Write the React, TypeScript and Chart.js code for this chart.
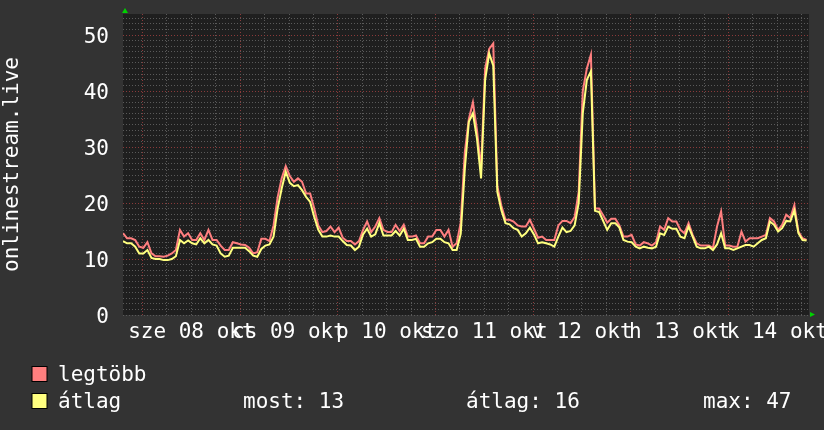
import React, { useEffect, useRef } from 'react';
import { Chart, registerables } from 'chart.js';

Chart.register(...registerables);

const FONT = "'DejaVu Sans Mono', monospace";

// time base: hours relative to 2025-10-08 00:00, one sample per hour
const START_HOUR = -4.8;
const STEP_HOURS = 1;
const X_MAX = 163.8;
const Y_MAX = 53.75;

// series "legtöbb" (maximum)
const legtobb = [
  14.6, 13.7, 13.7, 13.4, 12.2, 12.0, 13.0, 11.0, 10.5, 10.5,
  10.4, 10.6, 11.0, 11.6, 15.2, 14.0, 14.6, 13.4, 13.4, 14.6,
  13.4, 15.2, 13.4, 13.4, 12.4, 11.6, 11.6, 13.0, 12.8, 12.6,
  12.5, 12.0, 11.0, 11.2, 13.6, 13.6, 13.2, 16.0, 21.0, 24.4,
  26.6, 24.8, 23.8, 24.4, 23.8, 21.7, 21.7, 19.0, 16.0, 14.8,
  15.0, 15.8, 14.8, 15.6, 13.8, 13.2, 13.2, 12.6, 13.2, 15.2,
  16.7, 14.8, 15.8, 17.3, 15.2, 14.8, 14.8, 16.1, 15.0, 16.1,
  14.0, 14.0, 14.2, 12.8, 12.8, 14.0, 14.0, 15.2, 15.2, 14.0,
  15.2, 12.2, 12.8, 16.5, 29.0, 35.0, 38.0, 33.0, 26.0, 44.0,
  47.5, 48.5, 23.0, 19.5, 17.0, 17.0, 16.7, 16.0, 15.8, 15.8,
  17.0, 15.4, 13.8, 14.0, 13.4, 13.4, 13.4, 16.0, 16.8, 16.8,
  16.4, 17.5, 22.0, 40.0, 44.0, 46.5, 19.0, 19.0, 17.8, 16.5,
  17.2, 17.2, 16.0, 14.0, 14.0, 14.3, 12.6, 12.4, 13.0, 12.8,
  12.4, 13.0, 15.8, 15.2, 17.3, 16.7, 16.7, 15.2, 14.6, 16.4,
  14.3, 12.8, 12.4, 12.4, 12.4, 12.0, 15.8, 18.5, 12.4, 12.4,
  12.2, 12.2, 14.9, 13.1, 13.7, 13.7, 13.7, 14.0, 14.3, 17.3,
  16.7, 15.2, 16.1, 17.9, 17.3, 19.6, 14.9, 13.7, 13.4,
];

// series "átlag" (average)
const atlag = [
  13.2, 12.8, 12.8, 12.2, 11.0, 11.0, 11.6, 10.2, 10.0, 10.0,
  9.8, 9.8, 10.0, 10.5, 13.4, 12.8, 13.3, 12.8, 12.6, 13.7,
  12.8, 13.4, 12.6, 12.4, 11.0, 10.4, 10.6, 12.0, 12.0, 12.0,
  12.0, 11.4, 10.6, 10.4, 11.8, 12.4, 12.6, 14.0, 19.0, 22.6,
  25.6, 23.6, 23.0, 23.2, 22.3, 21.1, 20.2, 17.5, 15.2, 14.0,
  14.0, 14.2, 14.0, 14.0, 13.2, 12.5, 12.4, 11.6, 12.2, 14.4,
  15.4, 14.0, 14.4, 16.4, 14.2, 14.2, 14.2, 15.0, 14.2, 15.4,
  13.4, 13.4, 13.6, 12.2, 12.2, 12.8, 13.0, 13.6, 13.6, 13.0,
  12.8, 11.6, 11.6, 14.5, 26.0, 34.5, 36.0, 31.5, 24.4, 42.0,
  46.7, 44.5, 22.0, 18.7, 16.4, 16.2, 15.5, 15.2, 14.0, 14.6,
  15.6, 14.4, 12.8, 13.0, 12.8, 12.6, 12.2, 14.0, 15.6, 14.8,
  15.0, 16.0, 20.0, 36.0, 42.0, 43.5, 18.6, 18.4, 16.8, 15.2,
  16.4, 16.4, 15.6, 13.4, 13.1, 13.0, 12.2, 11.9, 12.2, 12.0,
  11.9, 12.2, 14.6, 14.3, 15.8, 15.4, 15.4, 14.0, 13.7, 15.8,
  14.0, 12.2, 11.9, 11.9, 12.2, 11.6, 12.6, 14.6, 11.9, 11.9,
  11.6, 11.9, 12.2, 12.5, 12.5, 12.2, 12.8, 13.4, 13.7, 16.7,
  16.1, 14.9, 15.5, 16.8, 16.7, 18.7, 14.6, 13.4, 13.3,
];

const seriesNames = ['legtöbb', 'átlag'];
const seriesColors = ['#ff7f7f', '#ffff7f'];
const dayLabels = ['sze 08 okt', 'cs 09 okt', 'p 10 okt', 'szo 11 okt', 'v 12 okt', 'h 13 okt', 'k 14 okt'];
const dayLabelHours = [12, 36, 60, 84, 108, 132, 156];
const yTickValues = [0, 10, 20, 30, 40, 50];
const statLabels = ['most: 13', 'átlag: 16', 'max: 47'];
const yTitle = 'onlinestream.live';

const MAJOR = '#8a3a3a';
const MINOR = '#5a5a5a';

const toPoints = (arr: number[]) => arr.map((v, i) => ({ x: START_HOUR + i * STEP_HOURS, y: v }));

const decor = {
  id: 'rrdDecor',
  beforeDraw(chart: any) {
    const { ctx, chartArea: a } = chart;
    ctx.save();
    ctx.fillStyle = '#333333';
    ctx.fillRect(0, 0, chart.width, chart.height);
    ctx.fillStyle = '#1f1f1f';
    ctx.fillRect(a.left, a.top, a.right - a.left, a.bottom - a.top);
    ctx.restore();
  },
  afterDraw(chart: any) {
    const { ctx, chartArea: a } = chart;
    const xs = chart.scales.x;
    const ys = chart.scales.y;
    ctx.save();
    ctx.font = `21px ${FONT}`;
    ctx.fillStyle = '#ffffff';
    ctx.textBaseline = 'alphabetic';
    // y tick labels
    ctx.textAlign = 'right';
    yTickValues.forEach((v) => {
      ctx.fillText(String(v), a.left - 14, ys.getPixelForValue(v) + 8);
    });
    // x day labels
    ctx.textAlign = 'center';
    dayLabels.forEach((lab, i) => {
      ctx.fillText(lab, xs.getPixelForValue(dayLabelHours[i]), 338);
    });
    // arrows
    ctx.fillStyle = '#00d200';
    ctx.beginPath();
    ctx.moveTo(a.left - 1, 13);
    ctx.lineTo(a.left + 5, 13);
    ctx.lineTo(a.left + 2, 8);
    ctx.closePath();
    ctx.fill();
    ctx.beginPath();
    ctx.moveTo(a.right + 1, a.bottom - 3);
    ctx.lineTo(a.right + 1, a.bottom + 2);
    ctx.lineTo(a.right + 6, a.bottom - 0.5);
    ctx.closePath();
    ctx.fill();
    // legend
    const rows = [381, 408];
    ctx.textAlign = 'left';
    seriesNames.forEach((name, i) => {
      const top = rows[i] - 15;
      ctx.fillStyle = '#000000';
      ctx.fillRect(31.5, top, 16, 16);
      ctx.fillStyle = seriesColors[i];
      ctx.fillRect(32.5, top + 1, 14, 14);
      ctx.fillStyle = '#ffffff';
      ctx.fillText(name, 58, rows[i]);
    });
    const statX = [243, 466, 703];
    statLabels.forEach((s, i) => ctx.fillText(s, statX[i], rows[1]));
    ctx.restore();
  },
};

export default function App() {
  const ref = useRef<HTMLCanvasElement | null>(null);
  useEffect(() => {
    if (!ref.current) return;
    const chart = new Chart(ref.current, {
      type: 'line',
      data: {
        datasets: [
          {
            label: seriesNames[1],
            data: toPoints(atlag),
            borderColor: seriesColors[1],
            borderWidth: 2,
            pointRadius: 0,
            tension: 0,
            fill: false,
            order: 0,
          },
          {
            label: seriesNames[0],
            data: toPoints(legtobb),
            borderColor: seriesColors[0],
            borderWidth: 2,
            pointRadius: 0,
            tension: 0,
            fill: false,
            order: 1,
          },
        ],
      },
      options: {
        animation: false,
        responsive: false,
        layout: { padding: { left: 0, top: 14, right: 15, bottom: 115 } },
        plugins: { legend: { display: false }, tooltip: { enabled: false } },
        scales: {
          x: {
            type: 'linear',
            min: START_HOUR,
            max: X_MAX,
            afterBuildTicks: (s: any) => {
              const t = [];
              for (let h = 0; h <= X_MAX; h += 6) t.push({ value: h });
              s.ticks = t;
            },
            afterFit: (s: any) => {
              s.paddingLeft = 0;
              s.paddingRight = 0;
            },
            ticks: { display: false },
            grid: {
              drawTicks: false,
              color: (c: any) => (c.tick && c.tick.value % 24 === 0 ? MAJOR : MINOR),
            },
            border: { display: false, dash: [1, 2] },
          },
          y: {
            type: 'linear',
            min: 0,
            max: Y_MAX,
            afterBuildTicks: (s: any) => {
              const t = [];
              for (let v = 0; v <= 53; v += 1) t.push({ value: v });
              s.ticks = t;
            },
            afterFit: (s: any) => {
              s.width = 123;
              s.paddingTop = 0;
              s.paddingBottom = 0;
            },
            ticks: {
              autoSkip: false,
              color: '#ffffff',
              font: { family: FONT, size: 21 },
              padding: 14,
              callback: () => '',
            },
            grid: {
              drawTicks: false,
              color: (c: any) => (c.tick && c.tick.value % 10 === 0 && c.tick.value > 0 ? MAJOR : MINOR),
            },
            border: { display: false, dash: [1, 2] },
            title: {
              display: true,
              text: yTitle,
              color: '#ffffff',
              font: { family: FONT, size: 21 },
              padding: 0,
            },
          },
        },
      },
      plugins: [decor],
    });
    return () => chart.destroy();
  }, []);
  return (
    <div style={{ position: 'absolute', left: 0, top: 0, width: 824, height: 430, background: '#333333' }}>
      <canvas ref={ref} width={824} height={430} />
    </div>
  );
}
